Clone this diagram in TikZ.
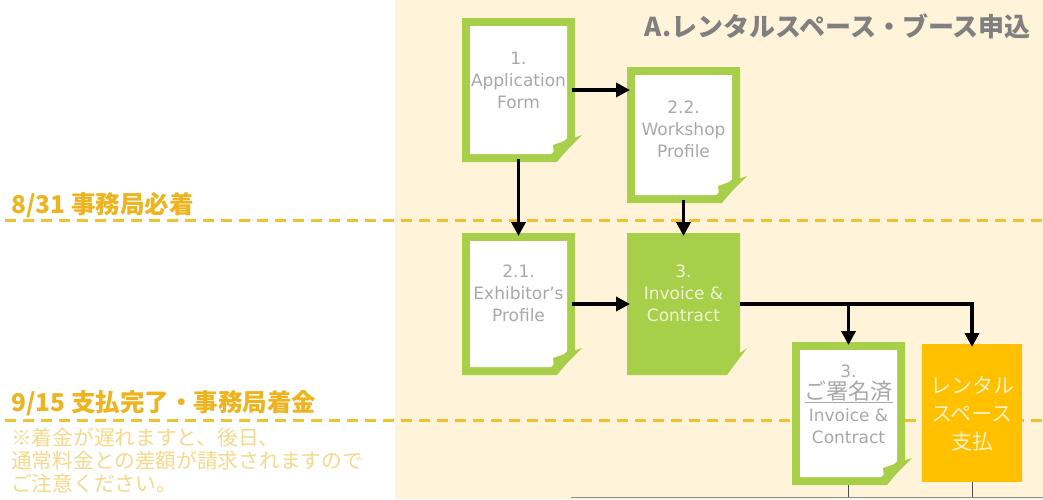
\documentclass[tikz,border=0pt]{standalone}
\usepackage{fontspec}
\setmainfont{DejaVu Sans}
\newfontfamily\jp{Noto Sans CJK JP}
\usetikzlibrary{arrows.meta}
\pgfdeclarelayer{back}
\pgfdeclarelayer{lines}
\pgfdeclarelayer{shapes}
\pgfsetlayers{back,lines,shapes,main}
\definecolor{cream}{HTML}{FFF4D9}
\definecolor{lgreen}{HTML}{A8CF4A}
\definecolor{gold}{HTML}{F2C12E}
\definecolor{goldtxt}{HTML}{EDB420}
\definecolor{notetxt}{HTML}{F6D98A}
\definecolor{orangebox}{HTML}{FFC000}
\definecolor{doctxt}{HTML}{A8A8A8}
\definecolor{titlegray}{HTML}{808080}
\definecolor{d3txt}{HTML}{EEF5D6}
\definecolor{paytxt}{HTML}{FFF1C8}
\tikzset{
  box/.style={draw=none, inner sep=0pt, outer sep=0pt, rectangle},
  doctext/.style={align=center, text=doctxt, inner sep=0pt, font=\fontsize{17pt}{22pt}\selectfont},
  arr/.style={line width=3.5pt, -{Triangle[length=14pt,width=14pt]}, shorten >=-3pt},
  dashline/.style={draw=gold, line width=3pt, dash pattern=on 11pt off 7pt},
  thinline/.style={draw=black!70, line width=1pt},
}
% white paper with green border and folded corner
\newcommand\whitepaper[1]{%
  \begin{pgfonlayer}{shapes}
  \fill[lgreen] (#1.north west) -- (#1.north east) -- ([yshift=22pt]#1.south east)
     -- ([xshift=-18pt]#1.south east) -- (#1.south west) -- cycle;
  \fill[white] ([shift={(8pt,-8pt)}]#1.north west) -- ([shift={(-8pt,-8pt)}]#1.north east)
     -- ([shift={(-8pt,24pt)}]#1.south east) -- ([shift={(-24pt,8pt)}]#1.south east)
     -- ([shift={(8pt,8pt)}]#1.south west) -- cycle;
  \fill[lgreen] ([shift={(-22pt,17pt)}]#1.south east) -- ([shift={(7pt,27pt)}]#1.south east)
     -- ([shift={(-20pt,0pt)}]#1.south east) -- cycle;
  \end{pgfonlayer}}
\newcommand\greenpaper[1]{%
  \begin{pgfonlayer}{shapes}
  \fill[lgreen] (#1.north west) -- (#1.north east) -- ([yshift=22pt]#1.south east)
     -- ([shift={(7pt,27pt)}]#1.south east)
     -- ([xshift=-13pt]#1.south east) -- (#1.south west) -- cycle;
  \end{pgfonlayer}}
\begin{document}
\begin{tikzpicture}[x=1pt,y=-1pt]
\useasboundingbox (0,0) rectangle (1043,499);
\begin{pgfonlayer}{back}
\fill[white] (0,0) rectangle (1043,499);
\fill[cream] (395,0) rectangle (1043,499);
\end{pgfonlayer}

% title
\node[anchor=east, inner sep=0pt, text=titlegray, font=\jp\bfseries\fontsize{26pt}{26pt}\selectfont] (title) at (1031,26) {A.レンタルスペース・ブース申込};

% document boxes
\node[box, minimum width=113pt, minimum height=144pt] (d1) at (518.5,90) {};
\node[box, minimum width=113pt, minimum height=136pt] (d22) at (683.5,135) {};
\node[box, minimum width=113pt, minimum height=142pt] (d21) at (518.5,304) {};
\node[box, minimum width=113pt, minimum height=142pt] (d3) at (683.5,304) {};
\node[box, minimum width=113pt, minimum height=143pt] (ds) at (848.5,413.5) {};
\node[box, fill=orangebox, minimum width=100pt, minimum height=138pt] (pay) at (972,413) {};

\whitepaper{d1}
\whitepaper{d22}
\whitepaper{d21}
\greenpaper{d3}
\whitepaper{ds}

% texts
\node[doctext] (t1) at (518.5,80) {1.\\Application\\Form};
\node[doctext] (t22) at (683.5,129) {2.2.\\Workshop\\Profile};
\node[doctext] (t21) at (518.5,293) {2.1.\\Exhibitor\symbol{39}s\\Profile};
\node[doctext, text=d3txt] (t3) at (683.5,293) {3.\\Invoice \&\\Contract};
\node[doctext] (ts) at (848.5,404) {3.\\{\jp\fontsize{22pt}{22pt}\selectfont\underline{ご署名済}}\\Invoice \&\\Contract};
\node[align=center, inner sep=0pt, text=paytxt, font=\jp\fontsize{21pt}{28pt}\selectfont] (tp) at (972,414) {レンタル\\スペース\\支払};

% dashed deadline lines
\coordinate (l1a) at (5,220);
\coordinate (l1b) at (1043,220);
\coordinate (l2a) at (5,420);
\coordinate (l2b) at (1043,420);
\begin{pgfonlayer}{lines}
\draw[dashline] (l1a) -- (l1b);
\draw[dashline] (l2a) -- (l2b);
\end{pgfonlayer}

% left labels
\node[anchor=base west, inner sep=0pt, text=goldtxt, font=\jp\bfseries\fontsize{24.5pt}{24.5pt}\selectfont] (lab1) at (11,213) {8/31 事務局必着};
\node[anchor=base west, inner sep=0pt, text=goldtxt, font=\jp\bfseries\fontsize{24.5pt}{24.5pt}\selectfont] (lab2) at (11,411) {9/15 支払完了・事務局着金};
\node[anchor=west, align=left, inner sep=0pt, text=notetxt, font=\jp\fontsize{20.7pt}{23pt}\selectfont] (note) at (11,460) {※着金が遅れますと、後日、\\通常料金との差額が請求されますので\\ご注意ください。};

% connectors
\draw[arr] ([xshift=-3pt]d1.east) -- (d1.east -| d22.west);
\draw[arr] ([yshift=3pt]d1.south) -- (d21.north);
\draw[arr] ([yshift=3pt]d22.south) -- (d3.north);
\draw[arr] ([xshift=-3pt]d21.east) -- (d3.west);
\draw[arr] (d3.east) -| (pay.north);
\draw[arr] (d3.east -| ds.north) -- (ds.north);

% bottom lines
\coordinate (b1) at (571,497);
\coordinate (b2) at (1043,497);
\draw[draw=black!45, line width=1pt] (b1) -- (b2);
\draw[thinline] (ds.south) -- (ds.south |- b1);
\draw[thinline] (pay.south) -- (pay.south |- b1);
\end{tikzpicture}
\end{document}
